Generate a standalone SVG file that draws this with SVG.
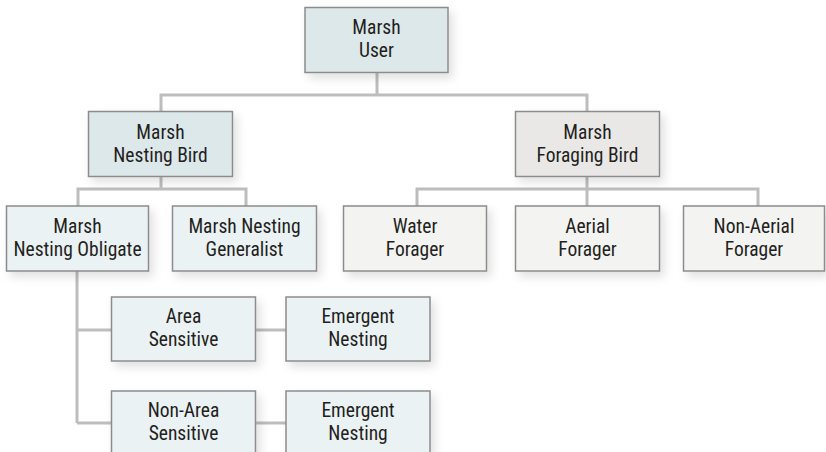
<svg xmlns="http://www.w3.org/2000/svg" width="826" height="452" viewBox="0 0 826 452">
<defs>
<filter id="sh" x="-20%" y="-20%" width="150%" height="160%">
<feDropShadow dx="4" dy="5" stdDeviation="5" flood-color="#000" flood-opacity="0.12"/>
</filter>
<style>
.b{stroke:#8c8c8c;stroke-width:1.5;filter:url(#sh)}
.c1{fill:#dde8ea}
.c2{fill:#eaf2f4}
.g1{fill:#e9e8e6}
.g2{fill:#f3f3f2}
text{font-family:"Liberation Sans Narrow","Roboto Condensed","DejaVu Sans Condensed","Liberation Sans",sans-serif;font-stretch:condensed;font-size:19.5px;fill:#231f20;text-anchor:middle}
.con path{fill:none;stroke:#bdbdbd;stroke-width:3}
</style>
</defs>
<rect width="826" height="452" fill="#fff"/>
<g class="con" id="connectors">
<path d="M377 72V95M161 111V95H587V111"/>
<path d="M161 176V189M78 206V189H246V206"/>
<path d="M587 176V206M417 206V189H758V206"/>
<path d="M77 271V423M77 330H111M77 423H111"/>
<path d="M256 330H286M256 423H286"/>
</g>
<g id="marsh-user"><rect class="b c1" x="305" y="7.5" width="143" height="65"/><text x="376.5" y="34">Marsh</text><text x="376.5" y="57">User</text></g>
<g id="nesting-bird"><rect class="b c1" x="88.5" y="111.5" width="144" height="65"/><text x="160.5" y="139">Marsh</text><text x="160.5" y="162">Nesting Bird</text></g>
<g id="foraging-bird"><rect class="b g1" x="515.5" y="111.5" width="144" height="65"/><text x="587.5" y="139">Marsh</text><text x="587.5" y="162">Foraging Bird</text></g>
<g id="obligate"><rect class="b c2" x="6.5" y="206" width="142" height="65"/><text x="77.5" y="233">Marsh</text><text x="77.5" y="256">Nesting Obligate</text></g>
<g id="generalist"><rect class="b c2" x="172.5" y="206" width="144" height="65"/><text x="244.5" y="233">Marsh Nesting</text><text x="244.5" y="256">Generalist</text></g>
<g id="water"><rect class="b g2" x="343.5" y="206" width="143" height="65"/><text x="415" y="233">Water</text><text x="415" y="256">Forager</text></g>
<g id="aerial"><rect class="b g2" x="515.5" y="206" width="144" height="65"/><text x="587.5" y="233">Aerial</text><text x="587.5" y="256">Forager</text></g>
<g id="non-aerial"><rect class="b g2" x="683.5" y="206" width="141" height="65"/><text x="754" y="233">Non-Aerial</text><text x="754" y="256">Forager</text></g>
<g id="area-sensitive"><rect class="b c2" x="111.5" y="297" width="144" height="64"/><text x="183.5" y="323">Area</text><text x="183.5" y="346">Sensitive</text></g>
<g id="emergent-1"><rect class="b c2" x="286" y="297" width="144" height="64"/><text x="358" y="323">Emergent</text><text x="358" y="346">Nesting</text></g>
<g id="non-area-sensitive"><rect class="b c2" x="111.5" y="391" width="144" height="80"/><text x="183.5" y="417">Non-Area</text><text x="183.5" y="440">Sensitive</text></g>
<g id="emergent-2"><rect class="b c2" x="286" y="391" width="144" height="80"/><text x="358" y="417">Emergent</text><text x="358" y="440">Nesting</text></g>
</svg>
